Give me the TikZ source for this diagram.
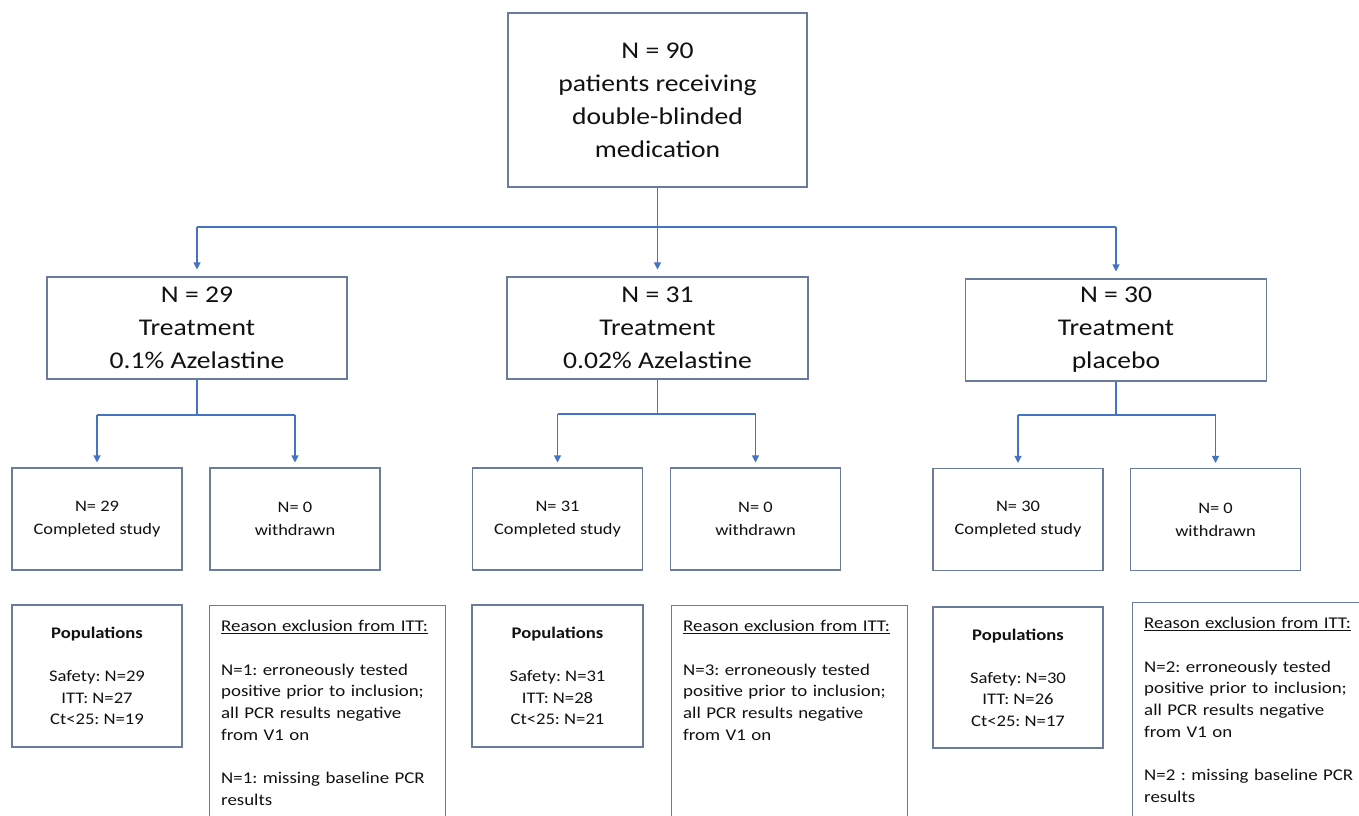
\documentclass[tikz,border=0pt]{standalone}
\usepackage{fontspec}
\setmainfont{Carlito}[FakeStretch=1.15]
\usetikzlibrary{arrows.meta}
\definecolor{conn}{HTML}{4472C4}
\definecolor{bord}{HTML}{6A7C9A}
\definecolor{txt}{HTML}{111111}
\frenchspacing
\begin{document}
\begin{tikzpicture}[x=1pt,y=-1pt,
  box/.style={draw=bord, line width=1.1pt, fill=white, inner sep=0pt, align=center, text=txt},
  bigtext/.style={font=\fontsize{24}{33}\selectfont\frenchspacing},
  midtext/.style={font=\fontsize{16}{23}\selectfont\frenchspacing},
  poptext/.style={font=\fontsize{16.2}{21.5}\selectfont\frenchspacing},
  extext/.style={font=\fontsize{16.4}{21.7}\selectfont\frenchspacing, text=txt, inner sep=0pt, align=left, text width=220pt, anchor=north west},
  connline/.style={draw=conn, line width=1.1pt},
  arr/.style={connline, -{Triangle[width=7pt,length=7pt]}},
]
\useasboundingbox (0,0) rectangle (1359,815);
\clip (0,0) rectangle (1359,815);
\fill[white] (0,0) rectangle (1359,815);

% top
\node[box, bigtext, minimum width=299pt, minimum height=174pt] (top) at (657.5,100)
  {N = 90\\patients receiving\\double-blinded\\medication};

% level 2
\node[box, bigtext, minimum width=300pt, minimum height=102pt] (ta) at (197,328)
  {N = 29\\Treatment\\0.1\% Azelastine};
\node[box, bigtext, minimum width=301pt, minimum height=102pt] (tb) at (657.5,328)
  {N = 31\\Treatment\\0.02\% Azelastine};
\node[box, bigtext, minimum width=301pt, minimum height=102pt] (tc) at (1116,330)
  {N = 30\\Treatment\\placebo};

% level 3
\node[box, midtext, minimum width=170pt, minimum height=102pt] (ca) at (97,519) {N= 29\\Completed study};
\node[box, midtext, minimum width=170pt, minimum height=102pt] (wa) at (295,519) {N= 0\\withdrawn};
\node[box, midtext, minimum width=170pt, minimum height=102pt] (cb) at (557.5,519) {N= 31\\Completed study};
\node[box, midtext, minimum width=170pt, minimum height=102pt] (wb) at (755.5,519) {N= 0\\withdrawn};
\node[box, midtext, minimum width=170pt, minimum height=102pt] (cc) at (1018,519.5) {N= 30\\Completed study};
\node[box, midtext, minimum width=170pt, minimum height=102pt] (wc) at (1215.5,519.5) {N= 0\\withdrawn};

% level 4: populations
\node[box, poptext, minimum width=170pt, minimum height=142pt] (pa) at (97,676)
  {\textbf{Populations}\\[21.5pt]Safety: N=29\\ITT: N=27\\Ct<25: N=19};
\node[box, poptext, minimum width=171pt, minimum height=142pt] (pb) at (557.5,676)
  {\textbf{Populations}\\[21.5pt]Safety: N=31\\ITT: N=28\\Ct<25: N=21};
\node[box, poptext, minimum width=170pt, minimum height=141pt] (pc) at (1018,677.5)
  {\textbf{Populations}\\[21.5pt]Safety: N=30\\ITT: N=26\\Ct<25: N=17};

% level 4: exclusion boxes (run past the lower edge)
\node[box, anchor=north west, minimum width=236pt, minimum height=260pt] (ea) at (209,605) {};
\node[box, anchor=north west, minimum width=236pt, minimum height=260pt] (eb) at (671,605) {};
\node[box, anchor=north west, minimum width=240pt, minimum height=260pt] (ec) at (1132,602) {};

\node[extext] (eat) at (221,620) {\underline{Reason exclusion from ITT:}\\[21.7pt]
  N=1: erroneously tested\\positive prior to inclusion;\\all PCR results negative\\from V1 on\\[21.7pt]
  N=1: missing baseline PCR\\results};
\node[extext] (ebt) at (683,620) {\underline{Reason exclusion from ITT:}\\[21.7pt]
  N=3: erroneously tested\\positive prior to inclusion;\\all PCR results negative\\from V1 on};
\node[extext] (ect) at (1144,617) {\underline{Reason exclusion from ITT:}\\[21.7pt]
  N=2: erroneously tested\\positive prior to inclusion;\\all PCR results negative\\from V1 on\\[21.7pt]
  N=2 : missing baseline PCR\\results};

% connectors top -> level 2
\coordinate (j1) at (657.5,227);
\draw[connline] (top.south) -- (j1);
\draw[connline] (j1 -| ta) -- (j1 -| tc);
\draw[arr, shorten >=7pt] (j1 -| ta) -- (ta.north);
\draw[arr, shorten >=7pt] (j1) -- (tb.north);
\draw[arr, shorten >=7pt] (j1 -| tc) -- (tc.north);

% connectors level 2 -> level 3
\coordinate (ja) at (197,415);
\draw[connline] (ta.south) -- (ja);
\draw[connline] (ja -| ca) -- (ja -| wa);
\draw[arr, shorten >=5pt] (ja -| ca) -- (ca.north);
\draw[arr, shorten >=5pt] (ja -| wa) -- (wa.north);

\coordinate (jb) at (657.5,414);
\draw[connline] (tb.south) -- (jb);
\draw[connline] (jb -| cb) -- (jb -| wb);
\draw[arr, shorten >=5pt] (jb -| cb) -- (cb.north);
\draw[arr, shorten >=5pt] (jb -| wb) -- (wb.north);

\coordinate (jc) at (1116,415);
\draw[connline] (tc.south) -- (jc);
\draw[connline] (jc -| cc) -- (jc -| wc);
\draw[arr, shorten >=5pt] (jc -| cc) -- (cc.north);
\draw[arr, shorten >=5pt] (jc -| wc) -- (wc.north);
\end{tikzpicture}
\end{document}
